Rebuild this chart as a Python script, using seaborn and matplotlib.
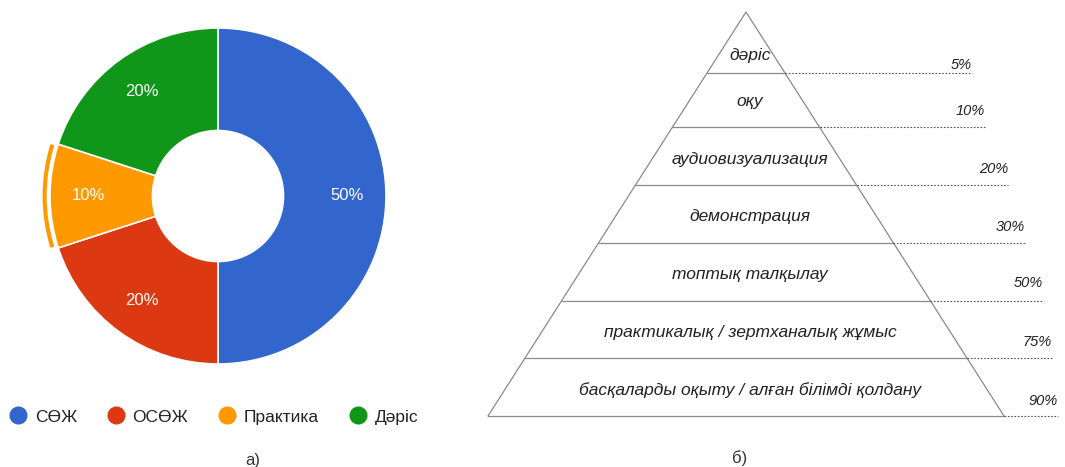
import matplotlib
matplotlib.use("Agg")
import matplotlib.pyplot as plt
from matplotlib.patches import Wedge
from matplotlib.lines import Line2D
import seaborn as sns
import numpy as np

sns.set_theme(style="white")
plt.rcParams['font.family'] = ['Liberation Sans', 'DejaVu Sans']

# ---- data: donut (a)
donut_labels = ["СӨЖ", "ОСӨЖ", "Практика", "Дәріс"]
donut_values = [50, 20, 10, 20]
donut_colors = ["#3366CC", "#DC3912", "#FF9900", "#109618"]
highlight = "Практика"

# ---- data: pyramid (б)
pyr_levels = ["дәріс", "оқу", "аудиовизуализация", "демонстрация",
              "топтық талқылау", "практикалық / зертханалық жұмыс",
              "басқаларды оқыту / алған білімді қолдану"]
pyr_pcts = ["5%", "10%", "20%", "30%", "50%", "75%", "90%"]

W, H = 1065, 467
fig = plt.figure(figsize=(W / 100, H / 100), dpi=100)
fig.patch.set_facecolor("white")

# ---------------- donut ----------------
cx, cy, R = 218, 196, 168
lim = 1.12
side = 2 * R * lim
ax = fig.add_axes([(cx - side / 2) / W, (H - cy - side / 2) / H, side / W, side / H])
wedges, _, autotexts = ax.pie(
    donut_values, colors=donut_colors, startangle=90, counterclock=False,
    radius=1.0, autopct="%d%%", pctdistance=0.77,
    wedgeprops=dict(width=0.61, edgecolor="white", linewidth=1.2),
    textprops=dict(color="white", fontsize=12))
ax.set_xlim(-lim, lim)
ax.set_ylim(-lim, lim)
ax.set_aspect("equal")
ax.axis("off")
hi = donut_labels.index(highlight)
w = wedges[hi]
ax.add_patch(Wedge((0, 0), 1.04, w.theta1 + 1, w.theta2 - 1, width=0.016,
                   color=donut_colors[hi], clip_on=False))

handles = [Line2D([], [], marker="o", linestyle="", markersize=12,
                  markerfacecolor=c, markeredgecolor=c) for c in donut_colors]
fig.legend(handles, donut_labels, loc="center left",
           bbox_to_anchor=(-6 / W, 1 - 417 / H), ncol=4, frameon=False,
           fontsize=12.5, handletextpad=0.45, columnspacing=1.75,
           handlelength=1.0, labelcolor="#222222")
fig.text(253 / W, 1 - 460 / H, "а)", ha="center", va="center",
         fontsize=12, color="#333333")

# ---------------- pyramid ----------------
axp = fig.add_axes([0, 0, 1, 1])
axp.set_xlim(0, W)
axp.set_ylim(H, 0)
axp.axis("off")
axp.patch.set_alpha(0)

apex_x, apex_y, base_y, half_base = 746, 12, 416, 258
n = len(pyr_levels)
step = (base_y - apex_y) / n
lc = "#8a8a8a"
axp.plot([apex_x - half_base, apex_x, apex_x + half_base],
         [base_y, apex_y, base_y], color=lc, lw=0.9)
leader_end = [972, 985, 1008, 1025, 1043, 1052, 1058]
label_gap = [1, 9, 9, 9, 11, 9, 8]
for i, (name, pct) in enumerate(zip(pyr_levels, pyr_pcts)):
    yb = apex_y + (i + 1) * step + (3 if i == 0 else 0)
    hw = half_base * (yb - apex_y) / (base_y - apex_y)
    axp.plot([apex_x - hw, apex_x + hw], [yb, yb], color=lc, lw=0.9)
    axp.plot([apex_x + hw, leader_end[i]], [yb, yb], color="#555555",
             lw=0.8, linestyle=(0, (1.5, 1.5)))
    yc = yb - step / 2 + (12 if i == 0 else 3)
    axp.text(750, yc, name, ha="center", va="center", fontsize=12.5,
             style="italic", color="#222222",
             family=["Liberation Sans Narrow", "Liberation Sans", "DejaVu Sans"])
    axp.text(leader_end[i], yb - label_gap[i], pct, ha="right", va="bottom",
             fontsize=10.5, style="italic", color="#222222",
             family=["Liberation Sans Narrow", "Liberation Sans", "DejaVu Sans"])
fig.text(740 / W, 1 - 458 / H, "б)", ha="center", va="center",
         fontsize=12, color="#333333")

fig.savefig("out.png", dpi=100, facecolor="white")
